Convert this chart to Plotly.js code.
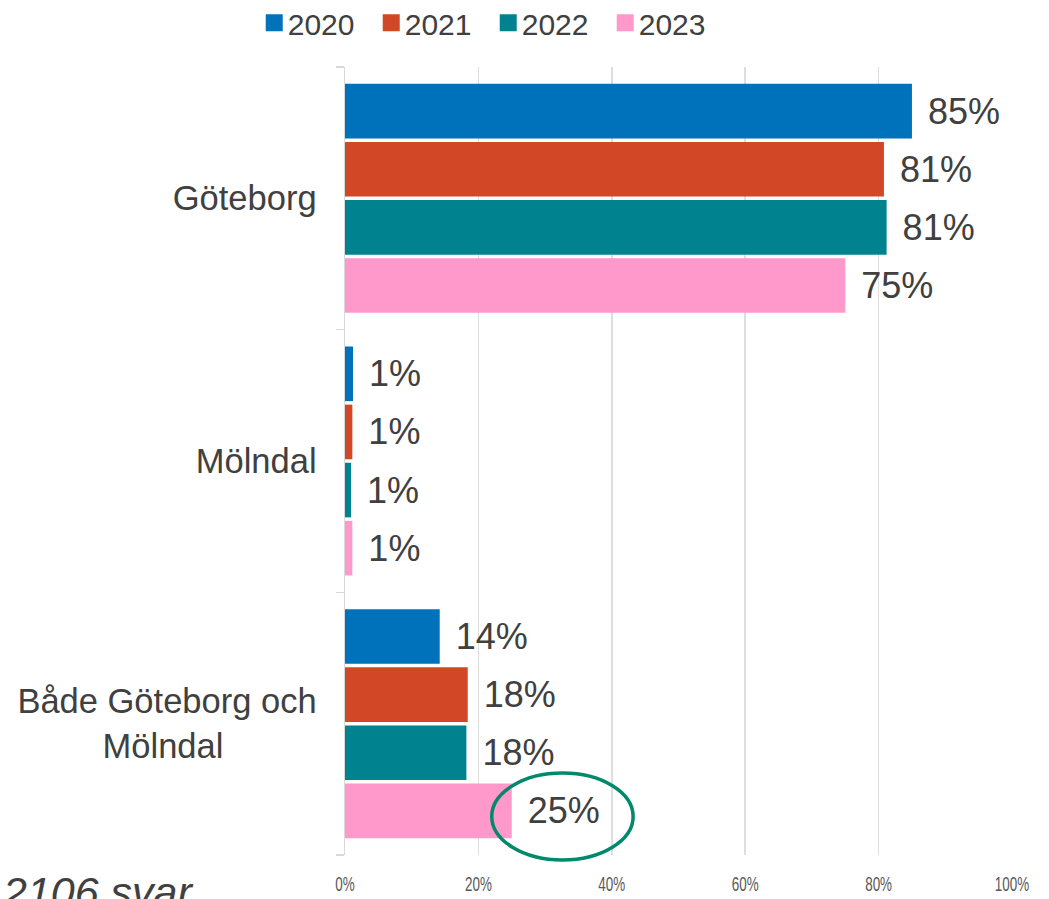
<!DOCTYPE html>
<html>
<head>
<meta charset="utf-8">
<script src="https://cdn.plot.ly/plotly-3.0.1.min.js"></script>
<style>html,body{margin:0;padding:0;background:#fff;}#chart{width:1049px;height:899px;}</style>
</head>
<body>
<div id="chart"></div>
<script>
const categories = ["Göteborg", "Mölndal", "Både Göteborg och Mölndal"];
const categoryLabels = ["Göteborg", "Mölndal", "Både Göteborg och<br>Mölndal\u00a0\u00a0\u00a0\u00a0\u00a0\u00a0\u00a0\u00a0\u00a0\u2009"];
const years = ["2020", "2021", "2022", "2023"];
const values2020 = [85.0, 1.2, 14.2];
const values2021 = [80.8, 1.1, 18.4];
const values2022 = [81.2, 0.9, 18.2];
const values2023 = [75.0, 1.1, 25.0];
const colors = ["#0071bb", "#d24726", "#00838f", "#ff99cc"];
const xTicks = [0, 20, 40, 60, 80, 100];
const noteText = "2106 svar";

const series = [values2020, values2021, values2022, values2023];
const traces = series.map((vals, i) => ({
  type: "bar",
  orientation: "h",
  name: years[i],
  y: categories,
  x: vals,
  marker: {color: colors[i]},
  text: vals.map(v => "\u00a0\u200a" + Math.round(v) + "%"),
  texttemplate: "%{text}",
  textposition: "outside",
  cliponaxis: false,
  textfont: {family: "Liberation Sans, Arial, sans-serif", size: 36, color: "#404040"},
  hoverinfo: "skip"
}));

const layout = {
  width: 1049,
  height: 899,
  margin: {l: 345, r: 37, t: 67, b: 44, autoexpand: false},
  paper_bgcolor: "#ffffff",
  plot_bgcolor: "#ffffff",
  barmode: "group",
  bargap: 0.115,
  bargroupgap: 0.06,
  showlegend: true,
  legend: {
    orientation: "h",
    x: 0.205,
    xanchor: "center",
    y: 1.056,
    yanchor: "middle",
    font: {family: "Liberation Sans, Arial, sans-serif", size: 30, color: "#404040"},
    traceorder: "normal",
    entrywidth: 72,
    entrywidthmode: "pixels"
  },
  xaxis: {
    range: [0, 100],
    tickvals: xTicks,
    ticktext: xTicks.map(t => t + "%"),
    showgrid: true,
    gridcolor: "#dedede",
    gridwidth: 1.5,
    zeroline: false,
    showline: false,
    ticks: "",
    ticklabelstandoff: 14,
    tickfont: {family: "Liberation Sans, Arial, sans-serif", size: 21, color: "#595959"}
  },
  yaxis: {
    type: "category",
    range: [2.5, -0.5],
    autorange: false,
    tickvals: categories,
    ticktext: categoryLabels,
    showline: true,
    linecolor: "#d9d9d9",
    linewidth: 1.5,
    ticks: "outside",
    tickson: "boundaries",
    ticklen: 8,
    tickcolor: "#d9d9d9",
    tickwidth: 1.5,
    showgrid: false,
    ticklabelstandoff: 20,
    tickfont: {family: "Liberation Sans, Arial, sans-serif", size: 34.5, color: "#404040"}
  },
  shapes: [{
    type: "circle",
    xref: "x",
    yref: "paper",
    x0: 22.0,
    x1: 43.2,
    y0: -0.0063,
    y1: 0.104,
    line: {color: "#00896a", width: 3.5}
  }],
  annotations: [{
    text: noteText,
    xref: "paper",
    yref: "paper",
    x: -0.517,
    xanchor: "left",
    y: -0.014,
    yanchor: "top",
    showarrow: false,
    font: {family: "Liberation Sans, Arial, sans-serif", size: 43, color: "#404040", style: "italic"}
  }]
};

function postStyle(gd) {
  // condense x tick labels horizontally (narrow font look)
  gd.querySelectorAll(".xtick text").forEach(t => {
    if (t.dataset.condensed) return;
    t.dataset.condensed = "1";
    const x = parseFloat(t.getAttribute("x")) || 0;
    const orig = t.getAttribute("transform") || "";
    t.setAttribute("transform", orig + " translate(" + x + ",0) scale(0.64,1) translate(" + (-x) + ",0)");
  });
  // larger square legend symbols placed close to their labels
  document.querySelectorAll("g.legendpoints path").forEach(p => {
    p.setAttribute("d", "M8.5,8.5H-8.5V-8.5H8.5Z");
    p.setAttribute("transform", "translate(26.5,0)");
  });
}

Plotly.newPlot("chart", traces, layout, {displayModeBar: false, staticPlot: true}).then(gd => {
  postStyle(gd);
});
</script>
</body>
</html>
